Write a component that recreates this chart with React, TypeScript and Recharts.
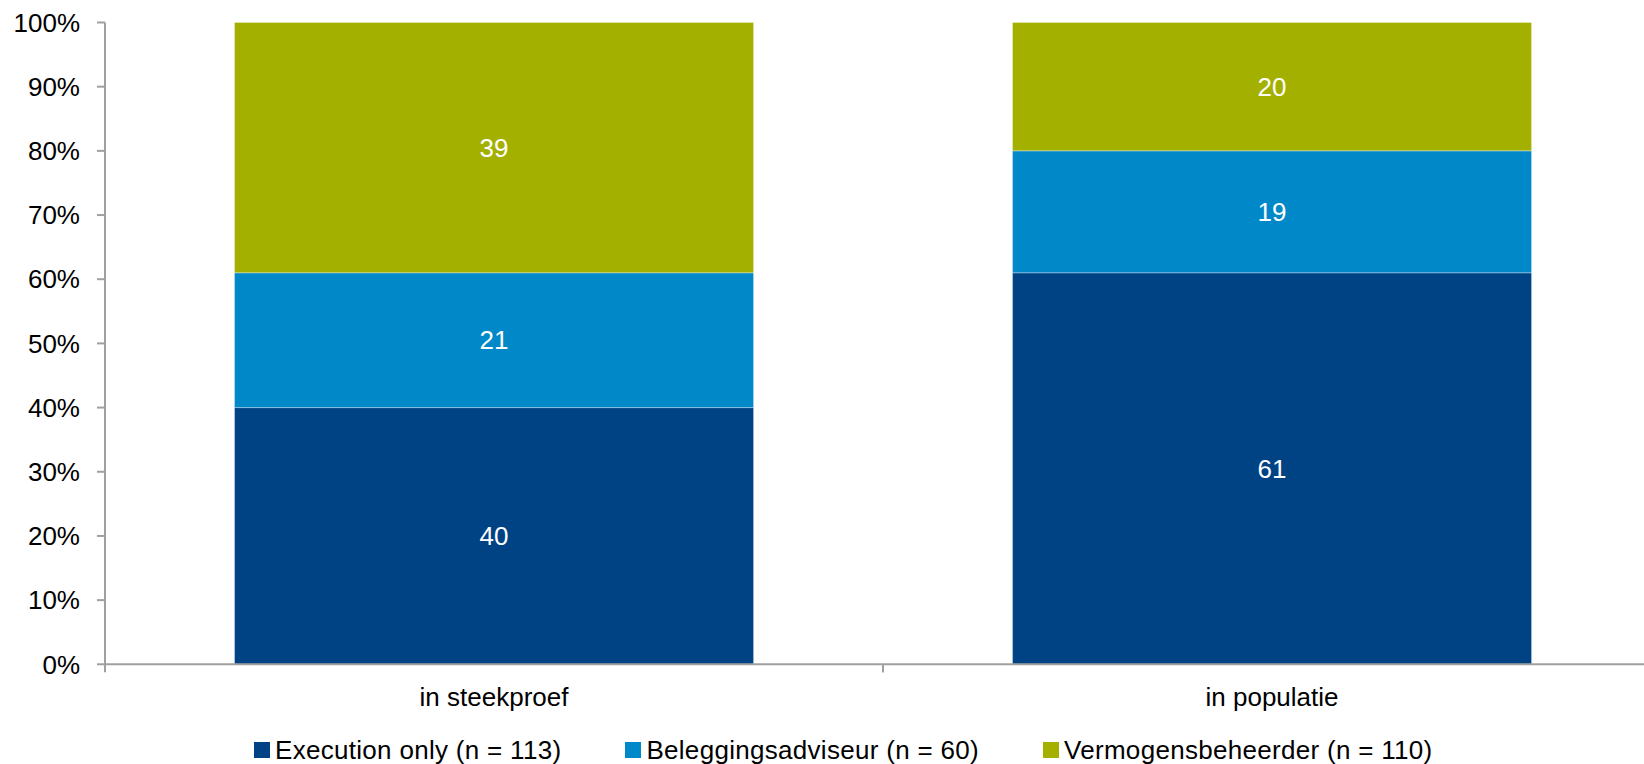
import React from 'react';
import { BarChart, Bar, XAxis, YAxis, LabelList, Legend } from 'recharts';

const categories = ['in steekproef', 'in populatie'];
const executionOnly = [40, 61];
const beleggingsadviseur = [21, 19];
const vermogensbeheerder = [39, 20];
const yTicks = [0, 10, 20, 30, 40, 50, 60, 70, 80, 90, 100];

const seriesNames = [
  'Execution only (n = 113)',
  'Beleggingsadviseur (n = 60)',
  'Vermogensbeheerder (n = 110)',
];
const seriesColors = ['#004385', '#0088C8', '#A4B000'];

const FONT = '"Liberation Sans", Arial, sans-serif';
const AXIS_COLOR = '#a0a0a0';
const BAND = 778; // px width of one category band

const chartData = categories.map((name, i) => ({
  name,
  exec: executionOnly[i],
  bel: beleggingsadviseur[i],
  verm: vermogensbeheerder[i],
}));

const CategoryTick = (props: any) => {
  const { x, y, payload } = props;
  const left = x - BAND / 2;
  const right = x + BAND / 2;
  return (
    <g>
      <line x1={left} y1={y} x2={left} y2={y + 8} stroke={AXIS_COLOR} strokeWidth={2} />
      <line x1={right} y1={y} x2={right} y2={y + 8} stroke={AXIS_COLOR} strokeWidth={2} />
      <text
        x={x}
        y={y + 33}
        textAnchor="middle"
        dominantBaseline="central"
        fill="#000"
        fontSize={26}
        fontFamily={FONT}
      >
        {payload.value}
      </text>
    </g>
  );
};

const LegendContent = () => (
  <div
    style={{
      display: 'flex',
      gap: 64,
      paddingLeft: 254,
      fontFamily: FONT,
      fontSize: 26,
      lineHeight: '30px',
      letterSpacing: '0.3px',
      color: '#000',
      whiteSpace: 'nowrap',
    }}
  >
    {seriesNames.map((name, i) => (
      <div key={name} style={{ display: 'flex', alignItems: 'center' }}>
        <span style={{ width: 16, height: 16, background: seriesColors[i], marginRight: 5, display: 'inline-block' }} />
        <span>{name}</span>
      </div>
    ))}
  </div>
);

export default function App() {
  return (
    <div style={{ position: 'fixed', left: 0, top: 0, width: 1644, height: 764, overflow: 'hidden', background: '#fff' }}>
      <BarChart
        width={1670}
        height={764}
        data={chartData}
        margin={{ top: 22.5, right: 9, left: 0, bottom: 39.7 }}
        barCategoryGap="16.65%"
      >
        <XAxis
          dataKey="name"
          height={60}
          axisLine={{ stroke: AXIS_COLOR, strokeWidth: 2 }}
          tickLine={false}
          tickSize={0}
          tickMargin={0}
          tick={<CategoryTick />}
        />
        <YAxis
          width={105}
          domain={[0, 100]}
          ticks={yTicks}
          interval={0}
          tickFormatter={(v: number) => `${v}%`}
          axisLine={{ stroke: AXIS_COLOR, strokeWidth: 2 }}
          tickLine={{ stroke: AXIS_COLOR, strokeWidth: 2 }}
          tickSize={8}
          tickMargin={17}
          tick={{ fill: '#000', fontSize: 26, fontFamily: FONT }}
        />
        <Legend
          layout="vertical"
          align="center"
          verticalAlign="middle"
          content={<LegendContent />}
          wrapperStyle={{ top: 734.5, left: 0, width: 1644 }}
        />
        <Bar dataKey="exec" stackId="a" fill={seriesColors[0]} stroke="rgba(255,255,255,0.3)" strokeWidth={1} isAnimationActive={false}>
          <LabelList dataKey="exec" position="center" fill="#fff" fontSize={26} fontFamily={FONT} />
        </Bar>
        <Bar dataKey="bel" stackId="a" fill={seriesColors[1]} stroke="rgba(255,255,255,0.3)" strokeWidth={1} isAnimationActive={false}>
          <LabelList dataKey="bel" position="center" fill="#fff" fontSize={26} fontFamily={FONT} />
        </Bar>
        <Bar dataKey="verm" stackId="a" fill={seriesColors[2]} stroke="rgba(255,255,255,0.3)" strokeWidth={1} isAnimationActive={false}>
          <LabelList dataKey="verm" position="center" fill="#fff" fontSize={26} fontFamily={FONT} />
        </Bar>
      </BarChart>
    </div>
  );
}
